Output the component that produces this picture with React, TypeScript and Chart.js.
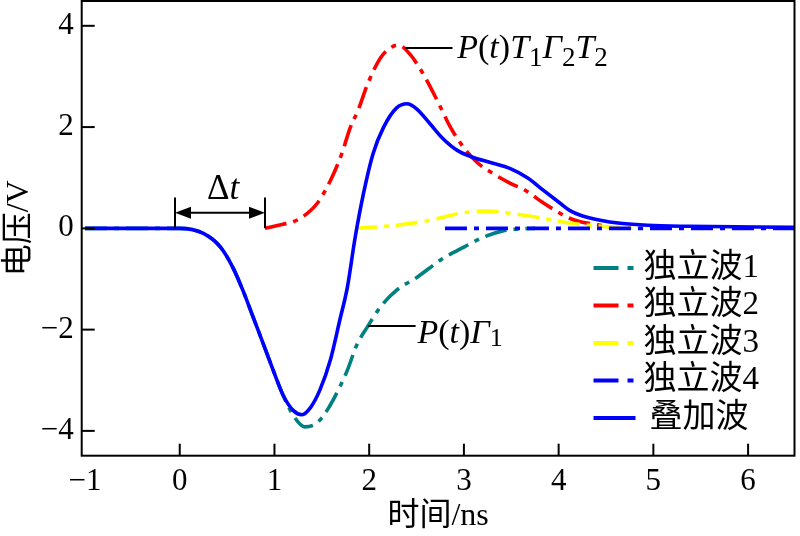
import React, { useEffect, useRef } from "react";
import { Chart, registerables } from "chart.js";

Chart.register(...registerables);

// ---------- data ----------
const xTickValues = [-1, 0, 1, 2, 3, 4, 5, 6];
const yTickValues = [-4, -2, 0, 2, 4];

const wave1T = [-1, 0, 0.25, 0.43, 0.56, 0.67, 0.78, 0.88, 0.99, 1.09, 1.2, 1.32, 1.45, 1.56, 1.69, 1.77, 1.87, 1.98, 2.12, 2.29, 2.51, 2.75, 3.0, 3.2, 3.41, 3.6, 3.75];
const wave1V = [0, 0, -0.1, -0.37, -0.77, -1.24, -1.78, -2.27, -2.82, -3.29, -3.7, -3.92, -3.84, -3.58, -3.13, -2.8, -2.3, -1.95, -1.55, -1.22, -0.96, -0.63, -0.37, -0.18, -0.05, -0.01, 0];

const wave2T = [0.9, 1.09, 1.2, 1.35, 1.45, 1.59, 1.71, 1.8, 1.88, 1.99, 2.12, 2.22, 2.31, 2.43, 2.57, 2.72, 2.86, 3.0, 3.14, 3.31, 3.49, 3.64, 3.84, 3.95, 4.09, 4.21, 4.44, 4.6];
const wave2V = [0, 0.08, 0.13, 0.3, 0.49, 0.94, 1.47, 1.99, 2.32, 2.88, 3.37, 3.56, 3.62, 3.44, 3.05, 2.52, 1.99, 1.59, 1.3, 1.08, 0.89, 0.76, 0.5, 0.37, 0.22, 0.14, 0.06, 0];

const wave3T = [1.85, 2.0, 2.29, 2.64, 3.0, 3.24, 3.56, 3.84, 4.12, 4.33, 4.6, 4.9];
const wave3V = [0, 0.02, 0.06, 0.16, 0.31, 0.34, 0.28, 0.2, 0.1, 0.06, 0.02, 0];

const wave4T = [2.8, 4.0, 5.0, 6.5];
const wave4V = [0, 0, 0, 0];

const sumT = [-1, 0, 0.25, 0.43, 0.56, 0.67, 0.78, 0.88, 0.99, 1.09, 1.2, 1.29, 1.38, 1.48, 1.59, 1.69, 1.77, 1.85, 1.94, 2.04, 2.15, 2.29, 2.4, 2.5, 2.64, 2.78, 2.93, 3.1, 3.28, 3.49, 3.67, 3.84, 4.02, 4.12, 4.23, 4.44, 4.65, 4.94, 5.36, 6.5];
const sumV = [0, 0, -0.1, -0.37, -0.77, -1.24, -1.78, -2.27, -2.82, -3.29, -3.6, -3.68, -3.54, -3.19, -2.6, -1.81, -1.16, -0.2, 0.69, 1.47, 1.99, 2.38, 2.46, 2.36, 2.07, 1.77, 1.54, 1.4, 1.3, 1.18, 1.0, 0.75, 0.49, 0.35, 0.26, 0.16, 0.1, 0.06, 0.04, 0.02];

const seriesNames = ["独立波1", "独立波2", "独立波3", "独立波4", "叠加波"];
const seriesColors = ["#008080", "#ff0000", "#ffff00", "#0000ff", "#0000ff"];

const xTitle = "时间/ns";
const yTitle = "电压/V";

type Seg = { t: string; it?: boolean; sub?: boolean };
const label1: Seg[] = [
  { t: "P", it: true }, { t: "(" }, { t: "t", it: true }, { t: ")" },
  { t: "T", it: true }, { t: "1", sub: true },
  { t: "Γ", it: true }, { t: "2", sub: true },
  { t: "T", it: true }, { t: "2", sub: true },
];
const label2: Seg[] = [
  { t: "P", it: true }, { t: "(" }, { t: "t", it: true }, { t: ")" },
  { t: "Γ", it: true }, { t: "1", sub: true },
];
const deltaLabel: Seg[] = [{ t: "Δ" }, { t: "t", it: true }];

// ---------- helpers ----------
const SERIF = '"Liberation Serif", "Times New Roman", serif';
const MIXED = '"Liberation Serif", "Noto Sans CJK SC", serif';
const DASH = [22, 7, 5, 7];

function pts(t: number[], v: number[]) {
  return t.map((x, i) => ({ x, y: v[i] }));
}

function drawRich(ctx: CanvasRenderingContext2D, segs: Seg[], x: number, y: number, size: number, subSize: number, subDy: number) {
  let cx = x;
  ctx.textAlign = "left";
  ctx.textBaseline = "alphabetic";
  for (const s of segs) {
    const sz = s.sub ? subSize : size;
    ctx.font = `${s.it ? "italic " : ""}${sz}px ${SERIF}`;
    ctx.fillText(s.t, cx, s.sub ? y + subDy : y);
    cx += ctx.measureText(s.t).width;
  }
  return cx - x;
}

function richWidth(ctx: CanvasRenderingContext2D, segs: Seg[], size: number, subSize: number) {
  let w = 0;
  for (const s of segs) {
    const sz = s.sub ? subSize : size;
    ctx.font = `${s.it ? "italic " : ""}${sz}px ${SERIF}`;
    w += ctx.measureText(s.t).width;
  }
  return w;
}

const annotationPlugin = {
  id: "annotationsLegend",
  afterDraw(chart: any) {
    const { ctx, chartArea: a, scales } = chart;
    const xs = scales.x;
    const ys = scales.y;
    ctx.save();
    ctx.fillStyle = "#000";
    ctx.setLineDash([]);
    ctx.strokeStyle = "#000";
    ctx.lineWidth = 2;

    const l1y = ys.getPixelForValue(3.56);
    ctx.beginPath();
    ctx.moveTo(xs.getPixelForValue(2.38), l1y);
    ctx.lineTo(xs.getPixelForValue(2.88), l1y);
    ctx.stroke();
    drawRich(ctx, label1, xs.getPixelForValue(2.93), ys.getPixelForValue(3.37), 34, 27, 8);

    const l2y = ys.getPixelForValue(-1.93);
    ctx.beginPath();
    ctx.moveTo(xs.getPixelForValue(1.99), l2y);
    ctx.lineTo(xs.getPixelForValue(2.49), l2y);
    ctx.stroke();
    drawRich(ctx, label2, xs.getPixelForValue(2.51), ys.getPixelForValue(-2.26), 34, 26, 3);

    const xa = xs.getPixelForValue(-0.05);
    const xb = xs.getPixelForValue(0.9);
    const y0 = ys.getPixelForValue(0);
    const yt = ys.getPixelForValue(0.61);
    const ya = ys.getPixelForValue(0.31);
    ctx.beginPath();
    ctx.moveTo(xa, y0); ctx.lineTo(xa, yt);
    ctx.moveTo(xb, y0); ctx.lineTo(xb, yt);
    ctx.moveTo(xa + 10, ya); ctx.lineTo(xb - 10, ya);
    ctx.stroke();
    ctx.beginPath();
    ctx.moveTo(xa, ya); ctx.lineTo(xa + 16, ya - 6); ctx.lineTo(xa + 16, ya + 6); ctx.closePath();
    ctx.moveTo(xb, ya); ctx.lineTo(xb - 16, ya - 6); ctx.lineTo(xb - 16, ya + 6); ctx.closePath();
    ctx.fill();
    const dw = richWidth(ctx, deltaLabel, 35, 35);
    drawRich(ctx, deltaLabel, (xa + xb) / 2 - dw / 2 + 3, ys.getPixelForValue(0.57), 35, 35, 0);

    const rowH = 37.5;
    const lx0 = a.right - 201;
    const lx1 = a.right - 159;
    const tx = a.right - 151;
    for (let i = 0; i < seriesNames.length; i++) {
      const ry = a.bottom - 37.7 - (seriesNames.length - 1 - i) * rowH;
      ctx.beginPath();
      ctx.strokeStyle = seriesColors[i];
      ctx.lineWidth = 4;
      ctx.lineCap = "butt";
      ctx.setLineDash(i < 4 ? [25, 9, 6, 20] : []);
      ctx.moveTo(lx0, ry);
      ctx.lineTo(lx1, ry);
      ctx.stroke();
      ctx.setLineDash([]);
      ctx.fillStyle = "#000";
      ctx.font = `33px ${MIXED}`;
      ctx.textAlign = "left";
      ctx.textBaseline = "middle";
      ctx.fillText(seriesNames[i], i < 4 ? tx : tx + 6, ry);
    }
    ctx.restore();
  },
};

const framePlugin = {
  id: "frameBox",
  afterDraw(chart: any) {
    const { ctx, chartArea: a, scales } = chart;
    const xs = scales.x;
    const ys = scales.y;
    ctx.save();
    ctx.setLineDash([]);
    ctx.strokeStyle = "#000000";
    ctx.lineWidth = 2;
    ctx.strokeRect(a.left, a.top, a.right - a.left, a.bottom - a.top);
    for (const v of xTickValues) {
      const px = xs.getPixelForValue(v);
      if (px - a.left < 6 || a.right - px < 6) continue;
      ctx.beginPath();
      ctx.moveTo(px, a.bottom);
      ctx.lineTo(px, a.bottom - 12);
      ctx.stroke();
    }
    for (const v of yTickValues) {
      const py = ys.getPixelForValue(v);
      ctx.beginPath();
      ctx.moveTo(a.left, py);
      ctx.lineTo(a.left + 13, py);
      ctx.stroke();
    }
    ctx.restore();
  },
};

export default function App() {
  const ref = useRef<HTMLCanvasElement | null>(null);

  useEffect(() => {
    if (!ref.current) return;
    const mk = (i: number, t: number[], v: number[], order: number) => ({
      label: seriesNames[i],
      data: pts(t, v),
      borderColor: seriesColors[i],
      backgroundColor: seriesColors[i],
      borderWidth: 3.6,
      borderDash: i < 4 ? DASH : [],
      borderCapStyle: "butt",
      pointRadius: 0,
      cubicInterpolationMode: "monotone",
      fill: false,
      order,
    });
    const chart = new Chart(ref.current, {
      type: "line",
      data: {
        datasets: [
          mk(4, sumT, sumV, 0),
          mk(3, wave4T, wave4V, 1),
          mk(2, wave3T, wave3V, 2),
          mk(1, wave2T, wave2V, 3),
          mk(0, wave1T, wave1V, 4),
        ] as any,
      },
      options: {
        responsive: false,
        devicePixelRatio: 1,
        animation: false,
        layout: { padding: { top: 1, right: 5.5, left: 0, bottom: 0 } },
        plugins: { legend: { display: false }, tooltip: { enabled: false } },
        scales: {
          x: {
            type: "linear",
            min: -1.035,
            max: 6.49,
            grid: { display: false },
            border: { display: false },
            afterBuildTicks: (s: any) => { s.ticks = xTickValues.map((value) => ({ value })); },
            afterFit: (s: any) => { s.height = 80.3; s.paddingLeft = 0; s.paddingRight = 0; },
            ticks: {
              color: "#000",
              padding: 0,
              maxRotation: 0,
              autoSkip: false,
              font: { family: SERIF, size: 31 },
              callback: (v: any) => String(v).replace("-", "−"),
            },
            title: {
              display: true,
              text: xTitle,
              color: "#000",
              font: { family: MIXED, size: 32 },
              padding: { top: 0, bottom: 0 },
            },
          },
          y: {
            type: "linear",
            min: -4.49,
            max: 4.49,
            grid: { display: false },
            border: { display: false },
            afterBuildTicks: (s: any) => { s.ticks = yTickValues.map((value) => ({ value })); },
            afterFit: (s: any) => { s.width = 81.7; s.paddingTop = 0; s.paddingBottom = 0; },
            ticks: {
              color: "#000",
              padding: 0,
              autoSkip: false,
              font: { family: SERIF, size: 31 },
              callback: (v: any) => String(v).replace("-", "−"),
            },
            title: {
              display: true,
              text: yTitle,
              color: "#000",
              font: { family: MIXED, size: 32 },
              padding: { top: 0, bottom: 0 },
            },
          },
        },
      },
      plugins: [annotationPlugin, framePlugin],
    });
    return () => chart.destroy();
  }, []);

  return (
    <div style={{ position: "absolute", left: 0, top: 0, width: 800, height: 536, background: "#fff" }}>
      <canvas ref={ref} width={800} height={536} style={{ display: "block" }} />
    </div>
  );
}
